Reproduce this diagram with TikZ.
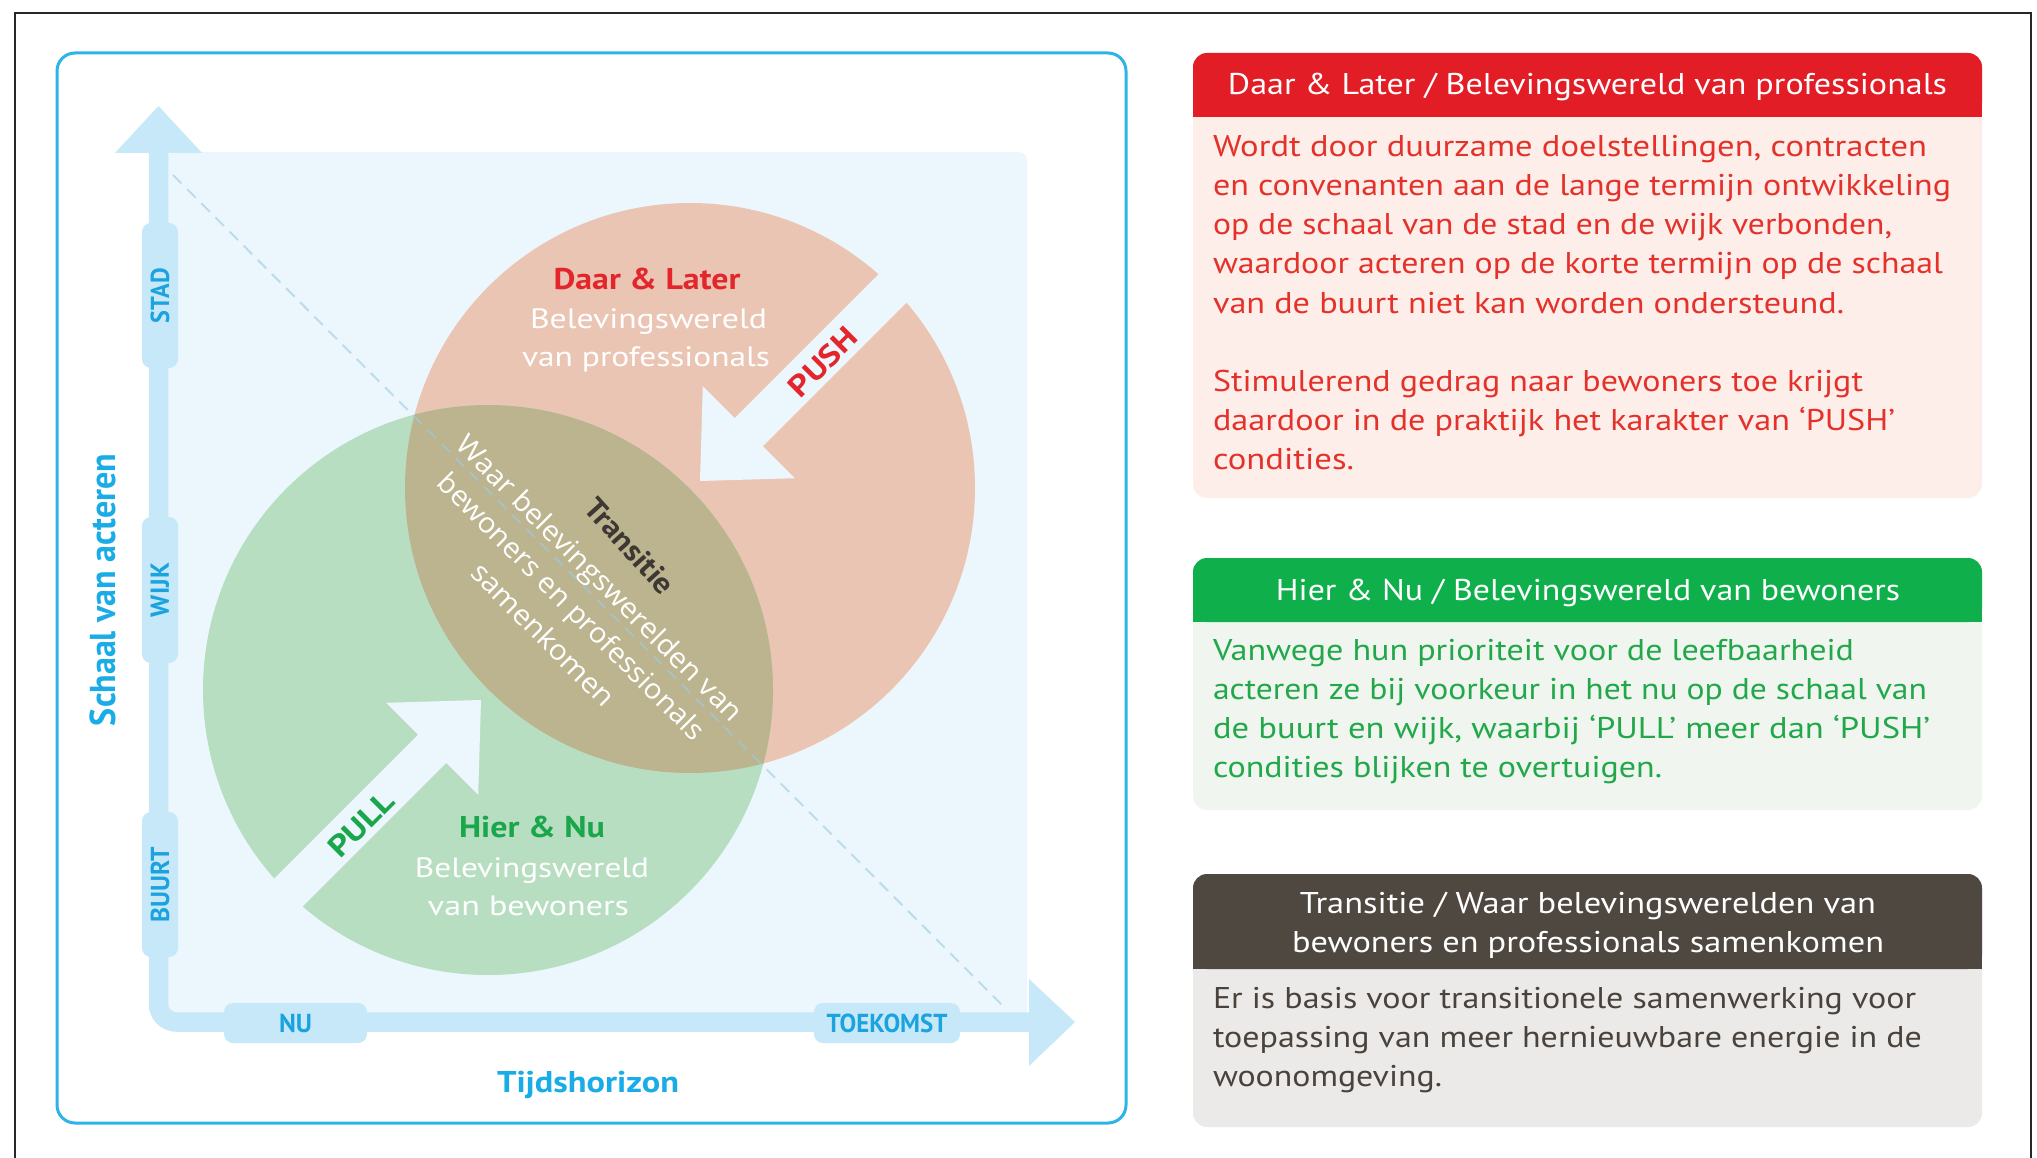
\documentclass[tikz,border=0pt]{standalone}
\usepackage{fontspec}
\setmainfont{PT Sans}
\newfontfamily\opensans{Open Sans}
\newcommand{\fw}[2]{\resizebox{#1pt}{\height}{#2}}
\definecolor{frameblue}{HTML}{2CB4E8}
\definecolor{bgsq}{HTML}{EBF7FD}
\definecolor{axisc}{HTML}{C6E8F8}
\definecolor{axistxt}{HTML}{1BA3DF}
\definecolor{titletxt}{HTML}{1AACE6}
\definecolor{redc}{HTML}{EBC5B4}
\definecolor{greenc}{HTML}{B8DEC1}
\definecolor{lensc}{HTML}{BCB38F}
\definecolor{dashc}{HTML}{9CCBE3}
\definecolor{redtxt}{HTML}{E3262B}
\definecolor{greentxt}{HTML}{1AA64A}
\definecolor{darktxt}{HTML}{3D3833}
\definecolor{hdrred}{HTML}{E31D26}
\definecolor{bodyred}{HTML}{FDEEEA}
\definecolor{ptxtred}{HTML}{E4322B}
\definecolor{hdrgreen}{HTML}{0FB04B}
\definecolor{bodygreen}{HTML}{F0F6EF}
\definecolor{ptxtgreen}{HTML}{22A84A}
\definecolor{hdrdark}{HTML}{4F4841}
\definecolor{bodydark}{HTML}{ECEAE8}
\definecolor{ptxtdark}{HTML}{4A433D}
\tikzset{
  txt/.style={inner sep=0pt, outer sep=0pt},
  basec/.style={txt, anchor=base},
  basew/.style={txt, anchor=base west},
  regfont/.style={font=\fontsize{30}{36}\selectfont},
  circfont/.style={font=\fontsize{28}{34}\selectfont},
  boldfont/.style={font=\fontsize{30}{36}\selectfont\bfseries},
  lensfont/.style={font=\opensans\fontsize{28}{40}\selectfont},
  pill/.style={fill=axisc, rounded corners=9pt, inner sep=0pt, text=axistxt,
               font=\fontsize{26}{26}\selectfont\bfseries},
  cutarrow/.style={fill=bgsq},
}
\begin{document}
\begin{tikzpicture}[x=1pt,y=-1pt]
\useasboundingbox (0,0) rectangle (2037,1158);
\fill[white] (0,0) rectangle (2037,1158);
% outer frame
\draw[line width=2.5pt, black!85] (15,1165) -- (15,13) -- (2031,13) -- (2031,1165);
% diagram frame
\draw[line width=3pt, frameblue, rounded corners=18pt] (57,53) rectangle (1126,1123);
% background square
\fill[bgsq, rounded corners=8pt] (166,152) rectangle (1027,1022);
% circles
\fill[redc] (690,488) circle[radius=285];
\fill[greenc] (488,690) circle[radius=285];
\begin{scope}
  \clip (690,488) circle[radius=285];
  \fill[lensc] (488,690) circle[radius=285];
\end{scope}
% cut arrows
\fill[cutarrow] (700,481) -- (702.8,386.2) -- (734.7,418.1) -- (968.7,184.1)
   -- (996.9,212.3) -- (762.9,446.3) -- (794.8,478.2) -- cycle;
\fill[cutarrow] (481,700) -- (386.2,702.8) -- (418.1,734.7) -- (184.1,968.7)
   -- (212.3,996.9) -- (446.3,762.9) -- (478.2,794.8) -- cycle;
% diagonal
\draw[dashc, opacity=0.6, line width=2pt, dash pattern=on 12pt off 8pt] (173,175) -- (1005,1008);
% axes
\draw[axisc, line width=19.5pt, rounded corners=18pt] (158.5,150) -- (158.5,1022) -- (1032,1022);
\fill[axisc] (158.5,106) -- (202,153) -- (115,153) -- cycle;
\fill[axisc] (1075,1022) -- (1029,979) -- (1029,1066) -- cycle;
% pills
\node[pill, minimum width=145pt, minimum height=36pt, rotate=90] (stad) at (160,295.5) {\fw{55}{STAD}};
\node[pill, minimum width=146pt, minimum height=36pt, rotate=90] (wijk) at (160,590) {\fw{54}{WIJK}};
\node[pill, minimum width=145pt, minimum height=36pt, rotate=90] (buurt) at (160,884.5) {\fw{75}{BUURT}};
\node[pill, minimum width=143pt, minimum height=40pt] (nu) at (295.5,1023) {\fw{33}{NU}};
\node[pill, minimum width=146pt, minimum height=40pt] (toekomst) at (887,1023) {\fw{121}{TOEKOMST}};
% axis titles
\node[txt, font=\fontsize{36}{36}\selectfont\bfseries, text=titletxt, rotate=90] (schaal) at (103,590) {\fw{272}{Schaal van acteren}};
\node[basec, boldfont, text=titletxt] (tijd) at (588,1092) {\fw{182}{Tijdshorizon}};
% circle labels
\node[basec, boldfont, text=redtxt] (daar) at (647,290) {\fw{187}{Daar \& Later}};
\node[basec, circfont, text=white] (dbel) at (648.5,328) {\fw{237}{Belevingswereld}};
\node[basec, circfont, text=white] (dvan) at (646,366) {\fw{248}{van professionals}};
\node[basec, boldfont, text=greentxt] (hier) at (532,837) {\fw{146}{Hier \& Nu}};
\node[basec, circfont, text=white] (hbel) at (532,877) {\fw{234}{Belevingswereld}};
\node[basec, circfont, text=white] (hvan) at (528.5,915) {\fw{201}{van bewoners}};
\node[txt, boldfont, text=redtxt, rotate=45] (push) at (823,362) {\fw{84}{PUSH}};
\node[txt, boldfont, text=greentxt, rotate=45] (pull) at (361,824) {\fw{80}{PULL}};
\node[txt, boldfont, text=darktxt, rotate=-48] (trans) at (630,546) {\fw{118}{Transitie}};
\node[txt, lensfont, text=white, rotate=-45, align=center] (lenstext) at (572,606)
  {\fw{392}{Waar belevingswerelden van}\\\fw{365}{bewoners en professionals}\\\fw{190}{samenkomen}};
% panel 1
\fill[bodyred, rounded corners=14pt] (1193,53) rectangle (1982,498);
\fill[hdrred, rounded corners=14pt] (1193,53) rectangle (1982,117);
\fill[hdrred] (1193,90) rectangle (1982,117);
\node[basec, regfont, text=white] (h1) at (1587.5,95) {\fw{719}{Daar \& Later / Belevingswereld van professionals}};
\foreach \y/\w/\t in {157/714/{Wordt door duurzame doelstellingen, contracten},
  196/738/{en convenanten aan de lange termijn ontwikkeling},
  235/679/{op de schaal van de stad en de wijk verbonden,},
  274/730/{waardoor acteren op de korte termijn op de schaal},
  313/631/{van de buurt niet kan worden ondersteund.},
  391/650/{Stimulerend gedrag naar bewoners toe krijgt},
  430/682/{daardoor in de praktijk het karakter van ‘PUSH’},
  469/141/{condities.}}
  \node[basew, regfont, text=ptxtred] (p1l\y) at (1213,\y) {\fw{\w}{\t}};
% panel 2
\fill[bodygreen, rounded corners=14pt] (1193,558) rectangle (1982,810);
\fill[hdrgreen, rounded corners=14pt] (1193,558) rectangle (1982,622);
\fill[hdrgreen] (1193,595) rectangle (1982,622);
\node[basec, regfont, text=white] (h2) at (1588,600) {\fw{624}{Hier \& Nu / Belevingswereld van bewoners}};
\foreach \y/\w/\t in {660/641/{Vanwege hun prioriteit voor de leefbaarheid},
  699/714/{acteren ze bij voorkeur in het nu op de schaal van},
  738/717/{de buurt en wijk, waarbij ‘PULL’ meer dan ‘PUSH’},
  777/449/{condities blijken te overtuigen.}}
  \node[basew, regfont, text=ptxtgreen] (p2l\y) at (1213,\y) {\fw{\w}{\t}};
% panel 3
\fill[bodydark, rounded corners=14pt] (1193,874) rectangle (1982,1127);
\fill[hdrdark, rounded corners=14pt] (1193,874) rectangle (1982,969);
\fill[hdrdark] (1193,930) rectangle (1982,969);
\node[basec, regfont, text=white, align=center, font=\fontsize{30}{39}\selectfont] (h3) at (1588,952)
  {\fw{576}{Transitie / Waar belevingswerelden van}\\\fw{592}{bewoners en professionals samenkomen}};
\foreach \y/\w/\t in {1008/703/{Er is basis voor transitionele samenwerking voor},
  1047/709/{toepassing van meer hernieuwbare energie in de},
  1086/229/{woonomgeving.}}
  \node[basew, regfont, text=ptxtdark] (p3l\y) at (1213,\y) {\fw{\w}{\t}};
\end{tikzpicture}
\end{document}
